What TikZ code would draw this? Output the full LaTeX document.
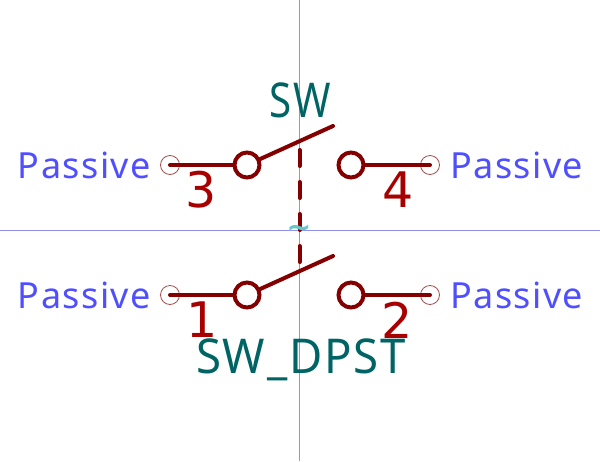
\documentclass[tikz,border=0pt]{standalone}
\usepackage{xcolor}
\usepackage{fontspec}
\setmainfont[LetterSpace=4]{Noto Sans}
\newfontfamily\numfont{DejaVu Sans}
\usetikzlibrary{positioning}
\definecolor{wirered}{HTML}{840000}
\definecolor{numred}{HTML}{A80000}
\definecolor{pinblue}{HTML}{4F4FFF}
\definecolor{refteal}{HTML}{006464}
\definecolor{tildeteal}{HTML}{64C8C8}
\definecolor{axisblue}{HTML}{9090F0}

\begin{document}
\begin{tikzpicture}[x=1pt,y=-1pt,node distance=104pt]
\tikzstyle{contact} = [circle, draw=wirered, line width=4pt, minimum size=25pt, inner sep=0pt]
\tikzstyle{pinmark} = [circle, draw=wirered!70, line width=0.8pt, minimum size=19pt, inner sep=0pt]
\tikzstyle{wire} = [draw=wirered, line width=4pt, line cap=round]
\tikzstyle{pinname} = [text=pinblue, font=\fontsize{36}{36}\selectfont, inner sep=0pt]
\tikzstyle{pinnum} = [text=numred, font=\numfont\fontsize{49}{49}\selectfont, inner sep=0pt]
\tikzstyle{reftext} = [text=refteal, font=\fontsize{48}{48}\selectfont, inner sep=0pt]
\tikzstyle{axis} = [draw=axisblue, line width=1pt]

\useasboundingbox (0,0) rectangle (600,461);

\coordinate (axisT) at (299.5,0);
\coordinate (axisB) at (299.5,461);
\coordinate (axisL) at (0,230.5);
\coordinate (axisR) at (600,230.5);
\draw [axis] (axisT) -- (axisB);
\draw [axis] (axisL) -- (axisR);

% upper switch
\node (pin3) [pinmark] at (170,165) {};
\node (c3) [contact] at (247,165) {};
\node (c4) [contact, right of=c3] {};
\node (pin4) [pinmark] at (430,165) {};
\coordinate (lever34) at (333,126);
\draw [wire] (pin3.center) -- (c3);
\draw [wire] (c4) -- (pin4.center);
\draw [wire] (c3) -- (lever34);

% lower switch
\node (pin1) [pinmark] at (170,295) {};
\node (c1) [contact] at (247,295) {};
\node (c2) [contact, right of=c1] {};
\node (pin2) [pinmark] at (430,295) {};
\coordinate (lever12) at (333,256);
\draw [wire] (pin1.center) -- (c1);
\draw [wire] (c2) -- (pin2.center);
\draw [wire] (c1) -- (lever12);

% coupling
\coordinate (linkT) at (299.5,150);
\coordinate (linkB) at (299.5,262);
\draw [wire, dash pattern=on 16pt off 16pt] (linkT) -- (linkB);
\node (tilde) [text=tildeteal, font=\numfont\bfseries\fontsize{30}{30}\selectfont, inner sep=0pt] at (299,231) {\textasciitilde};

\node (nameL1) [pinname, anchor=east] at (151,165) {Passive};
\node (nameR1) [pinname, anchor=west] at (450,165) {Passive};
\node (nameL2) [pinname, anchor=east] at (151,295) {Passive};
\node (nameR2) [pinname, anchor=west] at (450,295) {Passive};

\node (num3) [pinnum] at (201,190) {3};
\node (num4) [pinnum] at (398,190) {4};
\node (num1) [pinnum] at (202,320) {1};
\node (num2) [pinnum] at (397,320) {2};

\node (ref) [reftext, xscale=0.84, transform shape] at (300.5,100) {SW};
\node (val) [reftext, xscale=0.95, transform shape] at (301,360) {SW\_DPST};
\end{tikzpicture}
\end{document}
